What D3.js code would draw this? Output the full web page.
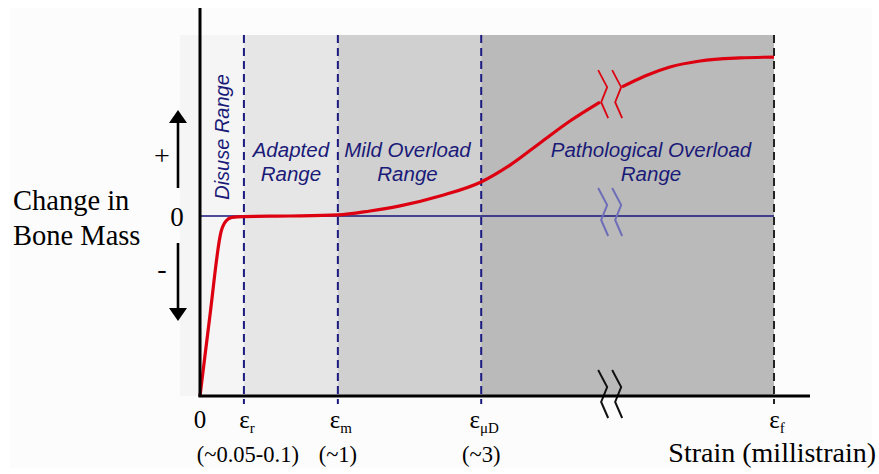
<!DOCTYPE html>
<html>
<head>
<meta charset="utf-8">
<script src="https://cdnjs.cloudflare.com/ajax/libs/d3/7.8.5/d3.min.js"></script>
<style>
body { margin: 0; background: #fff; }
svg { display: block; }
.serif { font-family: "Liberation Serif", "Times New Roman", serif; }
.range { font-family: "Liberation Sans", Arial, sans-serif; font-style: italic; fill: #1a1a78; }
</style>
</head>
<body>
<div id="graphic"></div>
<script>
// schematic strain positions (arbitrary units along the broken axis)
const markNames = ['0', 'r', 'm', 'μD', 'f'];
const markPos = [0, 7.2, 22.6, 46.1, 94.1];
const markNotes = ['', '(~0.05-0.1)', '(~1)', '(~3)', ''];

// shaded zones
const zoneNames = ['Disuse', 'Adapted', 'Mild Overload', 'Pathological Overload'];
const zoneStart = [-3.3, 7.2, 22.6, 46.1];
const zoneEnd = [7.2, 22.6, 46.1, 94.1];
const zoneFill = ['#f5f5f5', '#e6e6e6', '#d0d0d0', '#bababa'];

// response curve (change in bone mass), split at the axis break
const curveLeft = [
	[0, -1], [1.64, -0.55], [3.44, -0.089], [4.26, -0.028], [5.25, -0.008],
	[7.21, -0.003], [14.75, 0], [22.62, 0.006], [27.87, 0.028], [32.79, 0.056],
	[39.34, 0.111], [46.07, 0.189], [50.82, 0.283], [55.74, 0.406], [60.66, 0.528], [65.57, 0.633]
];
const curveRight = [
	[69.18, 0.717], [72.95, 0.778], [77.05, 0.828], [81.97, 0.861], [88.52, 0.878], [94.1, 0.883]
];
const breakPos = 65.6;

const width = 879, height = 474;
const svg = d3.select('#graphic').append('svg').attr('width', width).attr('height', height);

const x = d3.scaleLinear().domain([0, 100]).range([200, 810]);
const y = d3.scaleLinear().domain([-1, 1]).range([396, 36]);

// faint page backdrop
svg.append('rect').attr('x', 10).attr('y', 8).attr('width', 862).attr('height', 460).attr('fill', '#fcfcfc');

// zones
svg.append('g').selectAll('rect')
	.data(zoneNames)
	.join('rect')
	.attr('x', (d, i) => x(zoneStart[i]))
	.attr('y', y(1) - 1)
	.attr('width', (d, i) => x(zoneEnd[i]) - x(zoneStart[i]))
	.attr('height', y(-1) - y(1) + 1)
	.attr('fill', (d, i) => zoneFill[i]);

// dashed boundaries
svg.append('g').selectAll('line')
	.data(markPos.slice(1))
	.join('line')
	.attr('x1', (d) => x(d)).attr('x2', (d) => x(d))
	.attr('y1', y(1) - 1).attr('y2', y(-1) + 8)
	.attr('stroke', (d, i) => i === 3 ? '#222' : '#1a1a80')
	.attr('stroke-width', 2)
	.attr('stroke-dasharray', '8,5');

// zero line
svg.append('line')
	.attr('x1', x(0)).attr('x2', x(markPos[4]))
	.attr('y1', y(0)).attr('y2', y(0))
	.attr('stroke', '#14147a').attr('stroke-width', 1.6);

// break markers
const chev = (x0, y0) => `M${x0},${y0}L${x0 + 9},${y0 + 17}L${x0 + 3},${y0 + 32}L${x0 + 10},${y0 + 48}`;
const breaks = [
	{ y0: y(0.81), colour: '#dd0010', w: 1.8 },
	{ y0: y(0) - 28, colour: '#6e6eb8', w: 2 },
	{ y0: y(-1) - 26, colour: '#111', w: 2 }
];
breaks.forEach((b) => {
	[0, 14].forEach((dx) => {
		svg.append('path')
			.attr('d', chev(x(breakPos) - 2 + dx, b.y0))
			.attr('fill', 'none')
			.attr('stroke', b.colour)
			.attr('stroke-width', b.w);
	});
});

// curve
const line = d3.line().x((d) => x(d[0])).y((d) => y(d[1])).curve(d3.curveMonotoneX);
[curveLeft, curveRight].forEach((seg) => {
	svg.append('path')
		.attr('d', line(seg))
		.attr('fill', 'none')
		.attr('stroke', '#dd0010')
		.attr('stroke-width', 3.2)
		.attr('stroke-linejoin', 'round');
});

// axes
svg.append('line')
	.attr('x1', x(0)).attr('x2', x(0))
	.attr('y1', 8).attr('y2', y(-1) + 1)
	.attr('stroke', '#000').attr('stroke-width', 3);
svg.append('line')
	.attr('x1', x(0) - 1.5).attr('x2', x(100))
	.attr('y1', y(-1)).attr('y2', y(-1))
	.attr('stroke', '#000').attr('stroke-width', 3);

// x labels
const xl = svg.append('g').attr('class', 'serif');
markNames.forEach((n, i) => {
	const t = xl.append('text')
		.attr('x', x(markPos[i]) + (i === 0 ? 0 : 3))
		.attr('y', 428)
		.attr('text-anchor', 'middle');
	if (i === 0) {
		t.style('font-size', '25px').text('0');
	} else {
		t.append('tspan').style('font-size', '25px').text('ε');
		t.append('tspan').attr('dy', 5).style('font-size', '15px').text(n);
	}
	if (markNotes[i]) {
		xl.append('text')
			.attr('x', x(markPos[i]) + (i === 1 ? 4 : 0))
			.attr('y', 462)
			.attr('text-anchor', 'middle')
			.style('font-size', '22.5px')
			.text(markNotes[i]);
	}
});
xl.append('text')
	.attr('x', 876).attr('y', 462)
	.attr('text-anchor', 'end')
	.style('font-size', '28px')
	.text('Strain (millistrain)');

// y labels
xl.append('text').attr('x', 13).attr('y', 210).style('font-size', '28.5px').text('Change in');
xl.append('text').attr('x', 13).attr('y', 245).style('font-size', '28.5px').text('Bone Mass');
xl.append('text').attr('x', 177).attr('y', 226).attr('text-anchor', 'middle').style('font-size', '27px').text('0');
xl.append('text').attr('x', 162).attr('y', 165).attr('text-anchor', 'middle').style('font-size', '28px').text('+');
xl.append('text').attr('x', 162).attr('y', 278).attr('text-anchor', 'middle').style('font-size', '28px').text('-');

// arrows
const ax = 178;
svg.append('line').attr('x1', ax).attr('x2', ax).attr('y1', 120).attr('y2', 188).attr('stroke', '#000').attr('stroke-width', 2.6);
svg.append('path').attr('d', `M${ax},110L${ax + 9},123L${ax - 9},123Z`).attr('fill', '#000');
svg.append('line').attr('x1', ax).attr('x2', ax).attr('y1', 243).attr('y2', 310).attr('stroke', '#000').attr('stroke-width', 2.6);
svg.append('path').attr('d', `M${ax},321L${ax + 9},308L${ax - 9},308Z`).attr('fill', '#000');

// zone labels
const zl = svg.append('g').attr('class', 'range').style('font-size', '20.5px');
zl.append('text')
	.attr('transform', `translate(${x(3.6) + 7},137) rotate(-90)`)
	.attr('text-anchor', 'middle')
	.style('font-size', '20px')
	.text('Disuse Range');
const labels = [
	{ lines: ['Adapted', 'Range'], cx: (x(zoneStart[1]) + x(zoneEnd[1])) / 2 },
	{ lines: ['Mild Overload', 'Range'], cx: (x(zoneStart[2]) + x(zoneEnd[2])) / 2 - 2 },
	{ lines: ['Pathological Overload', 'Range'], cx: 651 }
];
labels.forEach((l) => {
	l.lines.forEach((s, j) => {
		zl.append('text')
			.attr('x', l.cx)
			.attr('y', 157 + j * 24)
			.attr('text-anchor', 'middle')
			.text(s);
	});
});
</script>
</body>
</html>
